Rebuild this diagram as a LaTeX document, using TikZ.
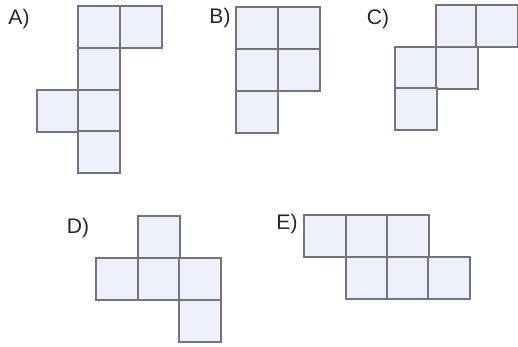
\documentclass[tikz,border=0pt]{standalone}
\usepackage{fontspec}
\setmainfont{Liberation Sans}
\usetikzlibrary{positioning}
\definecolor{NetFill}{RGB}{237,239,251}
\definecolor{NetLine}{RGB}{115,115,125}
\tikzset{
  net/cell/.style={
    draw=NetLine,
    line width=0.65pt,
    fill=NetFill,
    minimum size=0.84cm,
    inner sep=0pt
  },
  net/label/.style={font=\fontsize{12}{14}\selectfont, text=black!85, inner sep=0pt}
}
\begin{document}
\begin{tikzpicture}[x=0.02cm,y=-0.02cm]
  \useasboundingbox (0,0) rectangle (518,347);
  % A)
  \node[net/label] (la) at (19,19) {A)};
  \node[net/cell] (a1) at (99,27) {};
  \node[net/cell] (a2) at (141,27) {};
  \node[net/cell] (a3) at (99,69) {};
  \node[net/cell] (a4) at (58,111) {};
  \node[net/cell] (a5) at (99,111) {};
  \node[net/cell] (a6) at (99,152) {};
  % B)
  \node[net/label] (lb) at (220,18) {B)};
  \node[net/cell] (b1) at (257,28) {};
  \node[net/cell] (b2) at (299,28) {};
  \node[net/cell] (b3) at (257,70) {};
  \node[net/cell] (b4) at (299,70) {};
  \node[net/cell] (b5) at (257,112) {};
  % C)
  \node[net/label] (lc) at (378,19) {C)};
  \node[net/cell] (c1) at (457,26) {};
  \node[net/cell] (c2) at (497,26) {};
  \node[net/cell] (c3) at (416,68) {};
  \node[net/cell] (c4) at (457,68) {};
  \node[net/cell] (c5) at (416,109) {};
  % D)
  \node[net/label] (ld) at (78,228) {D)};
  \node[net/cell] (d1) at (159,237) {};
  \node[net/cell] (d2) at (117,279) {};
  \node[net/cell] (d3) at (159,279) {};
  \node[net/cell] (d4) at (200,279) {};
  \node[net/cell] (d5) at (200,321) {};
  % E)
  \node[net/label] (le) at (287,224) {E)};
  \node[net/cell] (e1) at (325,236) {};
  \node[net/cell] (e2) at (367,236) {};
  \node[net/cell] (e3) at (408,236) {};
  \node[net/cell] (e4) at (367,278) {};
  \node[net/cell] (e5) at (408,278) {};
  \node[net/cell] (e6) at (449,278) {};
\end{tikzpicture}
\end{document}
